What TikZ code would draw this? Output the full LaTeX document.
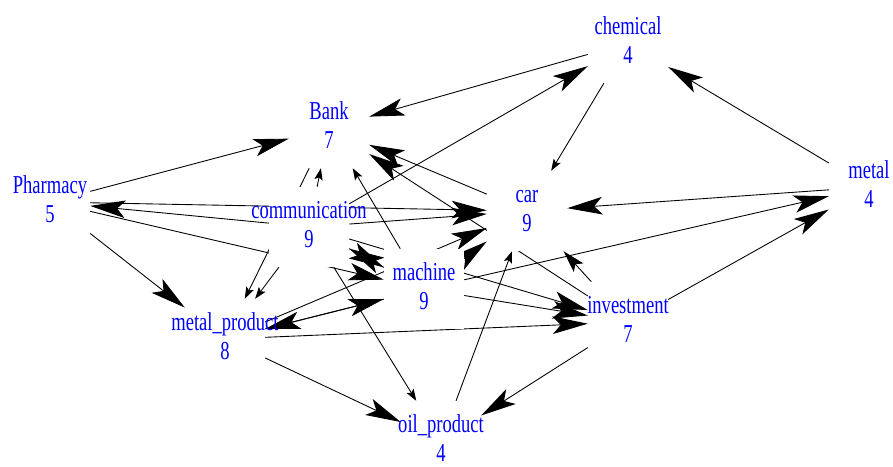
\documentclass[tikz,border=0pt]{standalone}
\usepackage{fontspec}
\setmainfont{Liberation Serif}
\newfontfamily\vfont[FakeStretch=0.72]{Liberation Serif}
\usetikzlibrary{arrows.meta}
\pgfdeclarelayer{background}
\pgfsetlayers{background,main}

\newcommand{\vlabel}[2]{\makebox[0pt]{\begin{tabular}{@{}c@{}}#1\\#2\end{tabular}}}

\tikzset{
    vertex/.style={rectangle, fill=white, inner sep=0pt,
        minimum width=2.4cm, minimum height=2.4cm,
        text=blue, font=\vfont\fontsize{22}{25.5}\selectfont},
    arc/.style={line width=0.75pt, -{Stealth[length=30pt, width=15pt, inset=7pt]}},
    arcmid/.style={line width=0.75pt, -{Stealth[length=19pt, width=11pt, inset=4pt]}},
    arcsmall/.style={line width=0.75pt, -{Stealth[length=10pt, width=7pt, inset=2pt]}}
}

\begin{document}
\begin{tikzpicture}[x=0.03cm, y=-0.03cm]
    \useasboundingbox (0,0) rectangle (893,466);

    \node[vertex] (chemical) at (628,43) {\vlabel{chemical}{4}};
    \node[vertex] (bank) at (329,128) {\vlabel{Bank}{7}};
    \node[vertex] (pharmacy) at (50,202) {\vlabel{Pharmacy}{5}};
    \node[vertex] (comm) at (309,227) {\vlabel{communication}{9}};
    \node[vertex] (car) at (527,211) {\vlabel{car}{9}};
    \node[vertex] (metal) at (869,187) {\vlabel{metal}{4}};
    \node[vertex] (machine) at (424,289) {\vlabel{machine}{9}};
    \node[vertex] (metalprod) at (225,339) {\vlabel{metal\_product}{8}};
    \node[vertex] (invest) at (628,322) {\vlabel{investment}{7}};
    \node[vertex] (oilprod) at (441,441) {\vlabel{oil\_product}{4}};

    \begin{pgfonlayer}{background}
    \draw[arc] (chemical) -- (bank);
    \draw[arc] (comm) -- (chemical);
    \draw[arcsmall] (chemical) -- (car);
    \draw[arc] (metal) -- (chemical);
    \draw[arc] (metal) -- (car);
    \draw[arc] (machine) -- (metal);
    \draw[arc] (invest) -- (metal);
    \draw[arc] (pharmacy) -- (bank);
    \draw[arc] (pharmacy) -- (car);
    \draw[arc] (comm) -- (pharmacy);
    \draw[arc] (pharmacy) -- (machine);
    \draw[arc] (pharmacy) -- (metalprod);
    \draw[arcsmall] (machine) -- (bank);
    \draw[arc] (car) -- (bank);
    \draw[arc] (invest) -- (bank);
    \draw[arcsmall] (bank) -- (metalprod);
    \draw[arcsmall] (comm) -- (bank);
    \draw[arc] (comm) -- (car);
    \draw[arcsmall] (comm) -- (metalprod);
    \draw[arc] (comm) -- (invest);
    \draw[arc] (comm) -- (machine);
    \draw[arc] (machine) -- (comm);
    \draw[arcsmall] (comm) -- (oilprod);
    \draw[arc] (machine) -- (invest);
    \draw[arc] (machine) -- (car);
    \draw[arc] (metalprod) -- (machine);
    \draw[arc] (machine) -- (metalprod);
    \draw[arc] (metalprod) -- (car);
    \draw[arc] (metalprod) -- (invest);
    \draw[arc] (metalprod) -- (oilprod);
    \draw[arc] (invest) -- (oilprod);
    \draw[arcmid] (invest) -- (car);
    \draw[arcsmall] (oilprod) -- (car);
    \end{pgfonlayer}
\end{tikzpicture}
\end{document}
